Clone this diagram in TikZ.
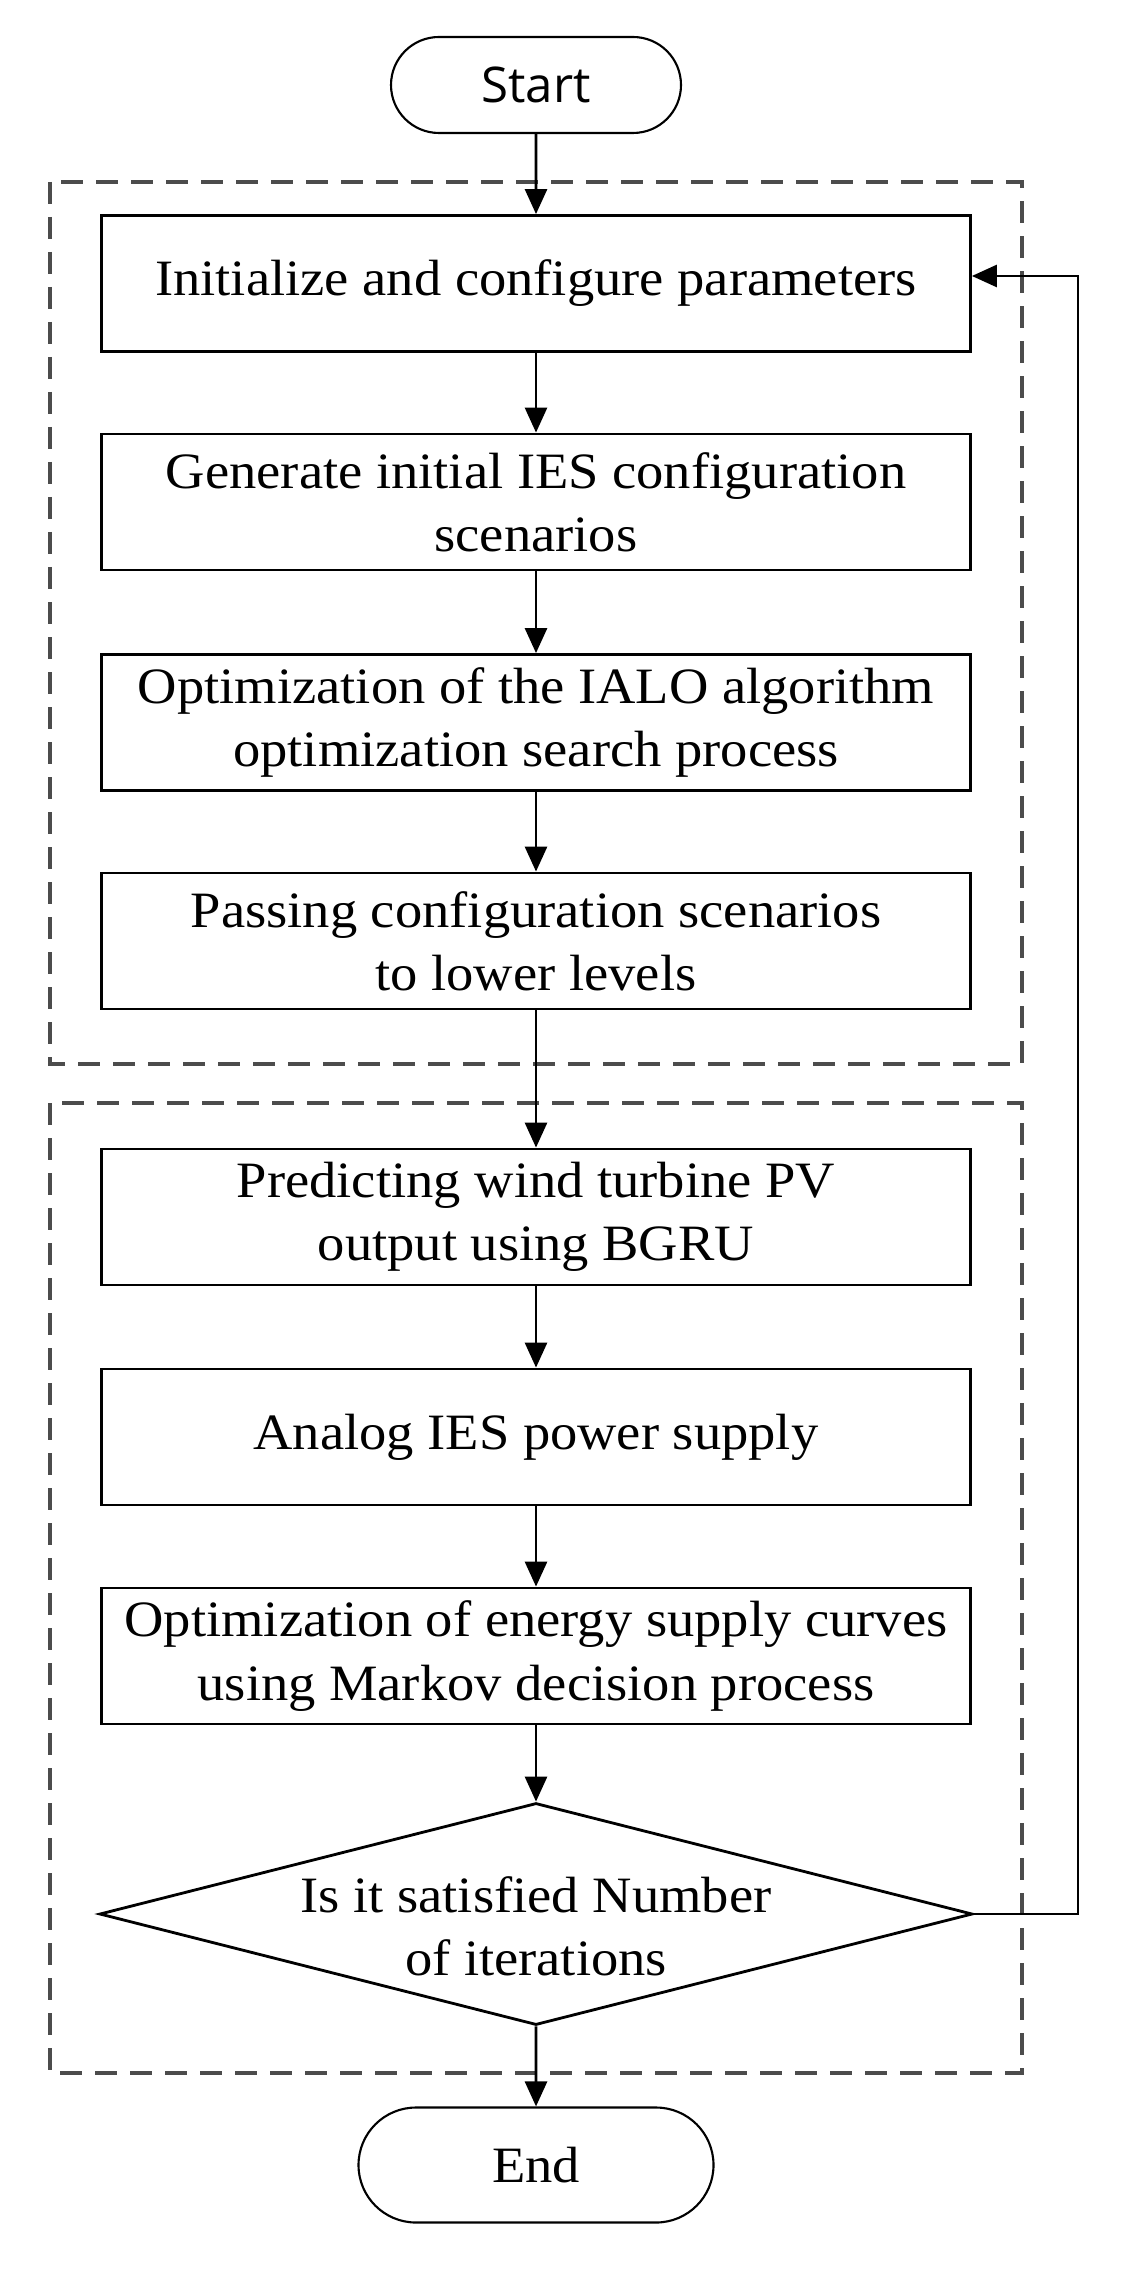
\documentclass[tikz,border=0pt]{standalone}
\usepackage{fontspec}
\setmainfont[FakeStretch=1.07]{Liberation Serif}
\newfontfamily\startfont{Open Sans}
\usetikzlibrary{arrows.meta,shapes.geometric,shapes.misc}

\begin{document}
\begin{tikzpicture}[
	every node/.style={font=\fontsize{14.5}{18}\selectfont},
	stepbox/.style={draw, line width=0.8pt, minimum width=8.69cm,
		minimum height=1.36cm, align=center, inner sep=0pt},
	termbox/.style={draw, line width=0.6pt, rounded rectangle, inner sep=0pt},
	group/.style={draw=black!70, line width=0.9pt, dash pattern=on 0.22cm off 0.13cm},
	flow/.style={-{Triangle[length=0.25cm,width=0.22cm]}, line width=0.8pt}
]

	% page
	\useasboundingbox (0,0) rectangle (11.42,-22.73);

	% centre line
	\def\xc{5.36}

	% dashed groups
	\draw[group] (0.50,-1.82) rectangle (10.22,-10.64);
	\draw[group] (0.50,-11.03) rectangle (10.22,-20.73);

	% terminals
	\node[termbox, minimum width=2.9cm, minimum height=0.96cm,
		font=\startfont\fontsize{14}{17}\selectfont] (start) at (\xc,-0.85) {Start};
	\node[termbox, minimum width=3.55cm, minimum height=1.15cm] (end) at (\xc,-21.65) {End};

	% upper level
	\node[stepbox] (init) at (\xc,-2.835) {Initialize and configure parameters};
	\node[stepbox] (gen)  at (\xc,-5.02)  {Generate initial IES configuration\\scenarios};
	\node[stepbox] (ialo) at (\xc,-7.225) {Optimization of the IALO algorithm\\optimization search process};
	\node[stepbox] (pass) at (\xc,-9.41)  {Passing configuration scenarios\\to lower levels};

	% lower level
	\node[stepbox] (bgru)   at (\xc,-12.17) {Predicting wind turbine PV\\output using BGRU};
	\node[stepbox] (supply) at (\xc,-14.37) {Analog IES power supply};
	\node[stepbox] (markov) at (\xc,-16.56) {Optimization of energy supply curves\\using Markov decision process};

	% decision
	\node[draw, diamond, line width=0.8pt, minimum width=8.73cm, minimum height=2.22cm,
		inner sep=0pt, label={[align=center, yshift=-0.12cm]center:{Is it satisfied Number\\of iterations}}]
		(dec) at (\xc,-19.14) {};

	% flow
	\draw[flow] (start) -- (init);
	\draw[flow] (init) -- (gen);
	\draw[flow] (gen) -- (ialo);
	\draw[flow] (ialo) -- (pass);
	\draw[flow] (pass) -- (bgru);
	\draw[flow] (bgru) -- (supply);
	\draw[flow] (supply) -- (markov);
	\draw[flow] (markov) -- (dec);
	\draw[flow] (dec) -- (end);

	% loop back
	\draw[flow] (dec.east) -- ++(1.04,0) |- ([yshift=0.075cm]init.east);

\end{tikzpicture}
\end{document}
